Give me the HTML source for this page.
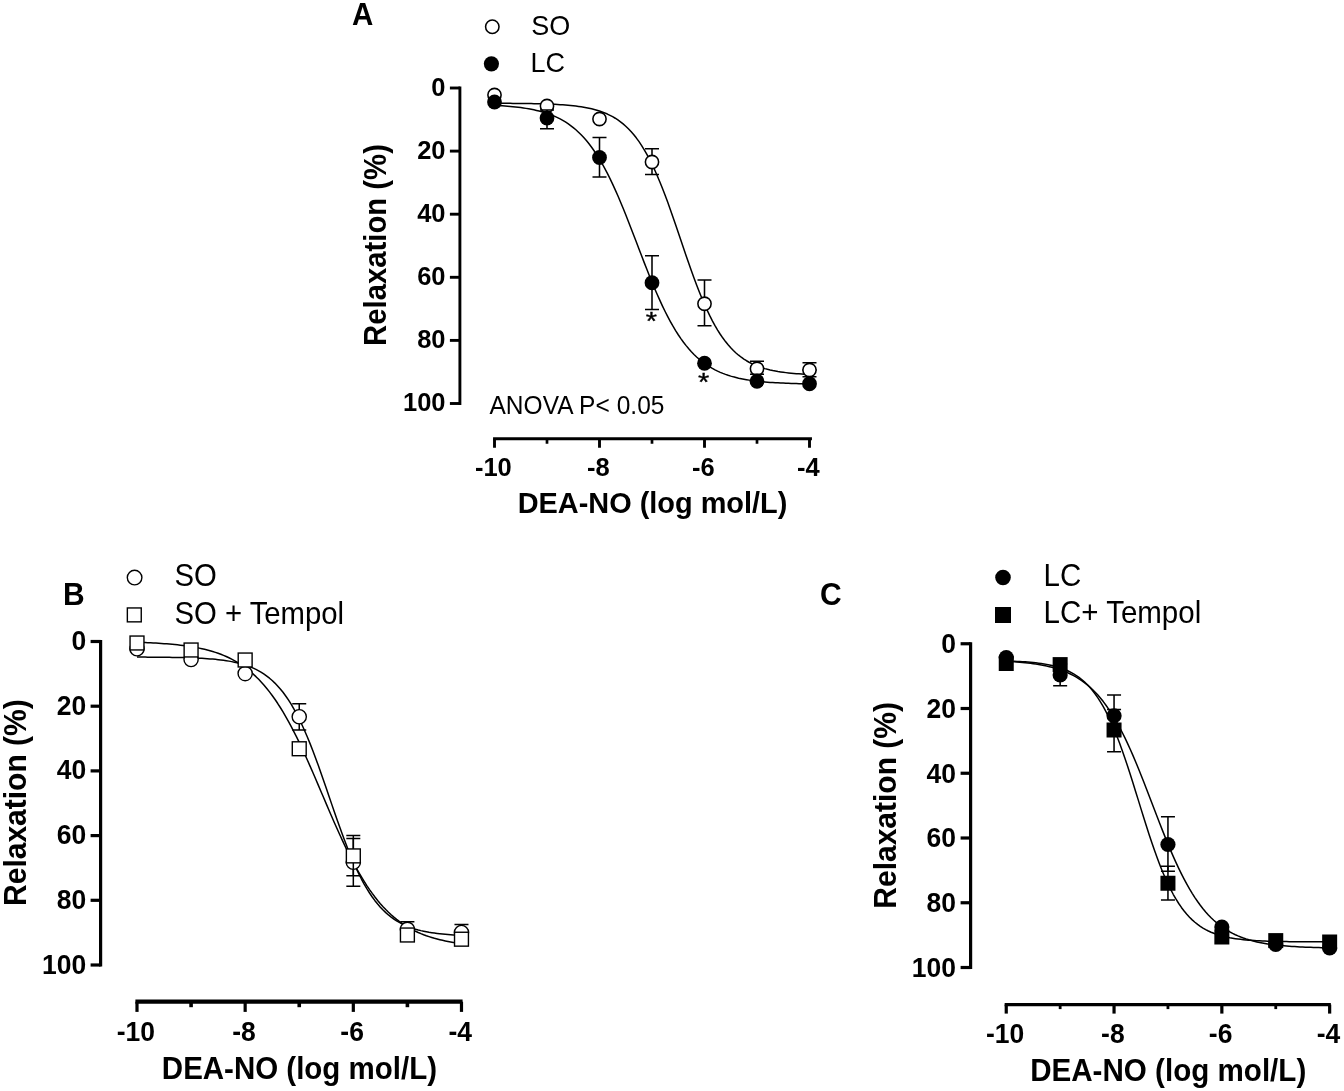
<!DOCTYPE html>
<html lang="en">
<head>
<meta charset="utf-8">
<title>DEA-NO relaxation curves</title>
<style>
html,body{margin:0;padding:0;background:#fff;}
body{width:1344px;height:1091px;overflow:hidden;}
svg{display:block;}
svg text{font-family:"Liberation Sans", Arial, Helvetica, sans-serif;fill:#000;}
</style>
</head>
<body>
<svg width="1344" height="1091" viewBox="0 0 1344 1091">
<rect width="1344" height="1091" fill="#fff"/>
<line x1="459.9" y1="86.55" x2="459.9" y2="404.95" stroke="#000" stroke-width="2.9"/>
<line x1="449.9" y1="88" x2="459.9" y2="88" stroke="#000" stroke-width="2.9"/>
<text transform="translate(445.5,95.92) scale(1,1.04)" font-size="25.5" font-weight="bold" text-anchor="end">0</text>
<line x1="449.9" y1="151.1" x2="459.9" y2="151.1" stroke="#000" stroke-width="2.9"/>
<text transform="translate(445.5,159.02) scale(1,1.04)" font-size="25.5" font-weight="bold" text-anchor="end">20</text>
<line x1="449.9" y1="214.2" x2="459.9" y2="214.2" stroke="#000" stroke-width="2.9"/>
<text transform="translate(445.5,222.12) scale(1,1.04)" font-size="25.5" font-weight="bold" text-anchor="end">40</text>
<line x1="449.9" y1="277.3" x2="459.9" y2="277.3" stroke="#000" stroke-width="2.9"/>
<text transform="translate(445.5,285.22) scale(1,1.04)" font-size="25.5" font-weight="bold" text-anchor="end">60</text>
<line x1="449.9" y1="340.4" x2="459.9" y2="340.4" stroke="#000" stroke-width="2.9"/>
<text transform="translate(445.5,348.32) scale(1,1.04)" font-size="25.5" font-weight="bold" text-anchor="end">80</text>
<line x1="449.9" y1="403.5" x2="459.9" y2="403.5" stroke="#000" stroke-width="2.9"/>
<text transform="translate(445.5,411.42) scale(1,1.04)" font-size="25.5" font-weight="bold" text-anchor="end">100</text>
<line x1="493.05" y1="438.75" x2="811.95" y2="438.75" stroke="#000" stroke-width="3.2"/>
<line x1="494.5" y1="438.75" x2="494.5" y2="447.75" stroke="#000" stroke-width="2.9"/>
<text transform="translate(493.3,475.5) scale(1,1.04)" font-size="25.5" font-weight="bold" text-anchor="middle">-10</text>
<line x1="547" y1="438.75" x2="547" y2="443.75" stroke="#000" stroke-width="2.7"/>
<line x1="599.5" y1="438.75" x2="599.5" y2="447.75" stroke="#000" stroke-width="2.9"/>
<text transform="translate(598.3,475.5) scale(1,1.04)" font-size="25.5" font-weight="bold" text-anchor="middle">-8</text>
<line x1="652" y1="438.75" x2="652" y2="443.75" stroke="#000" stroke-width="2.7"/>
<line x1="704.5" y1="438.75" x2="704.5" y2="447.75" stroke="#000" stroke-width="2.9"/>
<text transform="translate(703.3,475.5) scale(1,1.04)" font-size="25.5" font-weight="bold" text-anchor="middle">-6</text>
<line x1="757" y1="438.75" x2="757" y2="443.75" stroke="#000" stroke-width="2.7"/>
<line x1="809.5" y1="438.75" x2="809.5" y2="447.75" stroke="#000" stroke-width="2.9"/>
<text transform="translate(808.3,475.5) scale(1,1.04)" font-size="25.5" font-weight="bold" text-anchor="middle">-4</text>
<text transform="translate(652.5,513) scale(1,1.04)" font-size="28.9" font-weight="bold" text-anchor="middle">DEA-NO (log mol/L)</text>
<text transform="translate(386,245) rotate(-90) scale(1,1.04)" font-size="29.3" font-weight="bold" text-anchor="middle">Relaxation (%)</text>
<path d="M494.5 103.28L497.13 103.29L499.75 103.31L502.38 103.32L505 103.33L507.62 103.35L510.25 103.37L512.88 103.39L515.5 103.41L518.12 103.43L520.75 103.46L523.38 103.49L526 103.53L528.62 103.57L531.25 103.61L533.88 103.66L536.5 103.72L539.12 103.78L541.75 103.85L544.38 103.93L547 104.02L549.62 104.12L552.25 104.23L554.88 104.35L557.5 104.49L560.12 104.64L562.75 104.82L565.38 105.01L568 105.23L570.62 105.47L573.25 105.74L575.88 106.05L578.5 106.39L581.12 106.77L583.75 107.19L586.38 107.67L589 108.2L591.62 108.79L594.25 109.45L596.88 110.18L599.5 111L602.12 111.91L604.75 112.93L607.38 114.06L610 115.31L612.62 116.7L615.25 118.24L617.88 119.95L620.5 121.84L623.12 123.92L625.75 126.21L628.38 128.73L631 131.5L633.62 134.52L636.25 137.83L638.88 141.42L641.5 145.33L644.12 149.55L646.75 154.11L649.38 159L652 164.23L654.62 169.8L657.25 175.7L659.88 181.93L662.5 188.47L665.12 195.29L667.75 202.36L670.38 209.66L673 217.14L675.62 224.76L678.25 232.47L680.88 240.23L683.5 247.98L686.12 255.68L688.75 263.27L691.38 270.71L694 277.96L696.62 284.98L699.25 291.73L701.88 298.19L704.5 304.34L707.12 310.17L709.75 315.66L712.38 320.81L715 325.62L717.62 330.09L720.25 334.24L722.88 338.07L725.5 341.59L728.12 344.83L730.75 347.79L733.38 350.5L736 352.96L738.62 355.2L741.25 357.23L743.88 359.07L746.5 360.74L749.12 362.24L751.75 363.6L754.38 364.82L757 365.92L759.62 366.91L762.25 367.8L764.88 368.6L767.5 369.32L770.12 369.96L772.75 370.54L775.38 371.05L778 371.52L780.62 371.93L783.25 372.3L785.88 372.63L788.5 372.93L791.12 373.19L793.75 373.43L796.38 373.64L799 373.83L801.62 374L804.25 374.15L806.88 374.28L809.5 374.4" stroke="#000" stroke-width="1.5" fill="none" stroke-linejoin="round"/>
<path d="M494.5 105.39L497.13 105.53L499.75 105.68L502.38 105.85L505 106.03L507.62 106.24L510.25 106.46L512.88 106.71L515.5 106.98L518.12 107.28L520.75 107.61L523.38 107.97L526 108.37L528.62 108.81L531.25 109.29L533.88 109.82L536.5 110.4L539.12 111.04L541.75 111.74L544.38 112.51L547 113.35L549.62 114.28L552.25 115.29L554.88 116.4L557.5 117.61L560.12 118.94L562.75 120.39L565.38 121.96L568 123.68L570.62 125.55L573.25 127.58L575.88 129.79L578.5 132.18L581.12 134.76L583.75 137.55L586.38 140.56L589 143.79L591.62 147.26L594.25 150.97L596.88 154.93L599.5 159.15L602.12 163.63L604.75 168.36L607.38 173.35L610 178.6L612.62 184.1L615.25 189.83L617.88 195.78L620.5 201.94L623.12 208.28L625.75 214.78L628.38 221.42L631 228.17L633.62 234.99L636.25 241.85L638.88 248.73L641.5 255.58L644.12 262.39L646.75 269.1L649.38 275.7L652 282.15L654.62 288.44L657.25 294.53L659.88 300.41L662.5 306.07L665.12 311.48L667.75 316.65L670.38 321.56L673 326.21L675.62 330.6L678.25 334.73L680.88 338.61L683.5 342.24L686.12 345.63L688.75 348.79L691.38 351.73L694 354.45L696.62 356.97L699.25 359.3L701.88 361.44L704.5 363.42L707.12 365.24L709.75 366.91L712.38 368.45L715 369.85L717.62 371.14L720.25 372.32L722.88 373.4L725.5 374.38L728.12 375.28L730.75 376.1L733.38 376.85L736 377.53L738.62 378.15L741.25 378.71L743.88 379.22L746.5 379.69L749.12 380.12L751.75 380.5L754.38 380.85L757 381.17L759.62 381.46L762.25 381.73L764.88 381.97L767.5 382.18L770.12 382.38L772.75 382.56L775.38 382.72L778 382.87L780.62 383L783.25 383.12L785.88 383.23L788.5 383.33L791.12 383.42L793.75 383.51L796.38 383.58L799 383.65L801.62 383.71L804.25 383.77L806.88 383.82L809.5 383.86" stroke="#000" stroke-width="1.5" fill="none" stroke-linejoin="round"/>
<path d="M547 104.5V107.5M540 104.5H554M540 107.5H554" stroke="#000" stroke-width="1.55" fill="none"/>
<path d="M652 148.75V174.5M645 148.75H659M645 174.5H659" stroke="#000" stroke-width="1.55" fill="none"/>
<path d="M704.5 280V325.75M697.5 280H711.5M697.5 325.75H711.5" stroke="#000" stroke-width="1.55" fill="none"/>
<path d="M757 361.25V368.75M750 361.25H764M750 368.75H764" stroke="#000" stroke-width="1.55" fill="none"/>
<path d="M809.5 362.75V370M802.5 362.75H816.5M802.5 370H816.5" stroke="#000" stroke-width="1.55" fill="none"/>
<circle cx="494.5" cy="95" r="6.62" fill="#fff" stroke="#000" stroke-width="1.55"/>
<circle cx="547" cy="106" r="6.62" fill="#fff" stroke="#000" stroke-width="1.55"/>
<circle cx="599.5" cy="119" r="6.62" fill="#fff" stroke="#000" stroke-width="1.55"/>
<circle cx="652" cy="162" r="6.62" fill="#fff" stroke="#000" stroke-width="1.55"/>
<circle cx="704.5" cy="303.75" r="6.62" fill="#fff" stroke="#000" stroke-width="1.55"/>
<circle cx="757" cy="368.75" r="6.62" fill="#fff" stroke="#000" stroke-width="1.55"/>
<circle cx="809.5" cy="370" r="6.62" fill="#fff" stroke="#000" stroke-width="1.55"/>
<path d="M547 110V128.75M540 110H554M540 128.75H554" stroke="#000" stroke-width="1.55" fill="none"/>
<path d="M599.5 137.5V177M592.5 137.5H606.5M592.5 177H606.5" stroke="#000" stroke-width="1.55" fill="none"/>
<path d="M652 255.75V309.5M645 255.75H659M645 309.5H659" stroke="#000" stroke-width="1.55" fill="none"/>
<path d="M757 374.2V381M750 374.2H764" stroke="#000" stroke-width="1.55" fill="none"/>
<path d="M809.5 376.8V383M802.5 376.8H816.5" stroke="#000" stroke-width="1.55" fill="none"/>
<circle cx="494.5" cy="102" r="7.4" fill="#000"/>
<circle cx="547" cy="118" r="7.4" fill="#000"/>
<circle cx="599.5" cy="157.5" r="7.4" fill="#000"/>
<circle cx="652" cy="282.75" r="7.4" fill="#000"/>
<circle cx="704.5" cy="363.25" r="7.4" fill="#000"/>
<circle cx="757" cy="381.25" r="7.4" fill="#000"/>
<circle cx="809.5" cy="383.75" r="7.4" fill="#000"/>
<text transform="translate(651.3,330.2) scale(1,0.88)" font-size="29" text-anchor="middle" stroke="#000" stroke-width="0.4">*</text>
<text transform="translate(703.7,391.2) scale(1,0.88)" font-size="29" text-anchor="middle" stroke="#000" stroke-width="0.4">*</text>
<circle cx="492.3" cy="26.7" r="6.72" fill="#fff" stroke="#000" stroke-width="1.55"/>
<circle cx="491.4" cy="63.8" r="7.6" fill="#000"/>
<text transform="translate(531.2,35) scale(1,1.04)" font-size="27" text-anchor="start">SO</text>
<text transform="translate(530.5,71.5) scale(1,1.04)" font-size="27" text-anchor="start">LC</text>
<text transform="translate(489.5,413.5) scale(1,1.04)" font-size="24.5" text-anchor="start" fill="#1a1a1a" letter-spacing="0.04">ANOVA P&lt; 0.05</text>
<text transform="translate(352,25) scale(1,1.04)" font-size="29.5" font-weight="bold" text-anchor="start">A</text>
<line x1="100.6" y1="639.9" x2="100.6" y2="966.6" stroke="#000" stroke-width="3.2"/>
<line x1="90.6" y1="641.5" x2="100.6" y2="641.5" stroke="#000" stroke-width="3.2"/>
<text transform="translate(86.3,650.08) scale(1,1.04)" font-size="26.5" font-weight="bold" text-anchor="end">0</text>
<line x1="90.6" y1="706.2" x2="100.6" y2="706.2" stroke="#000" stroke-width="3.2"/>
<text transform="translate(86.3,714.78) scale(1,1.04)" font-size="26.5" font-weight="bold" text-anchor="end">20</text>
<line x1="90.6" y1="770.9" x2="100.6" y2="770.9" stroke="#000" stroke-width="3.2"/>
<text transform="translate(86.3,779.48) scale(1,1.04)" font-size="26.5" font-weight="bold" text-anchor="end">40</text>
<line x1="90.6" y1="835.6" x2="100.6" y2="835.6" stroke="#000" stroke-width="3.2"/>
<text transform="translate(86.3,844.18) scale(1,1.04)" font-size="26.5" font-weight="bold" text-anchor="end">60</text>
<line x1="90.6" y1="900.3" x2="100.6" y2="900.3" stroke="#000" stroke-width="3.2"/>
<text transform="translate(86.3,908.88) scale(1,1.04)" font-size="26.5" font-weight="bold" text-anchor="end">80</text>
<line x1="90.6" y1="965" x2="100.6" y2="965" stroke="#000" stroke-width="3.2"/>
<text transform="translate(86.3,973.58) scale(1,1.04)" font-size="26.5" font-weight="bold" text-anchor="end">100</text>
<line x1="135.4" y1="1001.7" x2="462.58" y2="1001.7" stroke="#000" stroke-width="4.2"/>
<line x1="137" y1="1001.7" x2="137" y2="1011.9" stroke="#000" stroke-width="3.2"/>
<text transform="translate(135.8,1040.5) scale(1,1.04)" font-size="26.5" font-weight="bold" text-anchor="middle">-10</text>
<line x1="191.08" y1="1001.7" x2="191.08" y2="1007.2" stroke="#000" stroke-width="3.6"/>
<line x1="245.16" y1="1001.7" x2="245.16" y2="1011.9" stroke="#000" stroke-width="3.2"/>
<text transform="translate(243.96,1040.5) scale(1,1.04)" font-size="26.5" font-weight="bold" text-anchor="middle">-8</text>
<line x1="299.24" y1="1001.7" x2="299.24" y2="1007.2" stroke="#000" stroke-width="3.6"/>
<line x1="353.32" y1="1001.7" x2="353.32" y2="1011.9" stroke="#000" stroke-width="3.2"/>
<text transform="translate(352.12,1040.5) scale(1,1.04)" font-size="26.5" font-weight="bold" text-anchor="middle">-6</text>
<line x1="407.4" y1="1001.7" x2="407.4" y2="1007.2" stroke="#000" stroke-width="3.6"/>
<line x1="461.48" y1="1001.7" x2="461.48" y2="1011.9" stroke="#000" stroke-width="3.2"/>
<text transform="translate(460.28,1040.5) scale(1,1.04)" font-size="26.5" font-weight="bold" text-anchor="middle">-4</text>
<text transform="translate(299.4,1078.8) scale(1,1.04)" font-size="29.5" font-weight="bold" text-anchor="middle">DEA-NO (log mol/L)</text>
<text transform="translate(26.3,802.6) rotate(-90) scale(1,1.04)" font-size="30" font-weight="bold" text-anchor="middle">Relaxation (%)</text>
<path d="M137 657.09L139.7 657.1L142.41 657.11L145.11 657.12L147.82 657.14L150.52 657.16L153.22 657.18L155.93 657.2L158.63 657.22L161.34 657.25L164.04 657.28L166.74 657.31L169.45 657.35L172.15 657.39L174.86 657.43L177.56 657.49L180.26 657.54L182.97 657.61L185.67 657.68L188.38 657.76L191.08 657.86L193.78 657.96L196.49 658.07L199.19 658.2L201.9 658.34L204.6 658.51L207.3 658.68L210.01 658.89L212.71 659.11L215.42 659.36L218.12 659.64L220.82 659.95L223.53 660.31L226.23 660.7L228.94 661.13L231.64 661.62L234.34 662.16L237.05 662.77L239.75 663.45L242.46 664.2L245.16 665.04L247.86 665.97L250.57 667.01L253.27 668.17L255.98 669.44L258.68 670.86L261.38 672.43L264.09 674.17L266.79 676.09L269.5 678.21L272.2 680.54L274.9 683.1L277.61 685.9L280.31 688.97L283.02 692.32L285.72 695.97L288.42 699.93L291.13 704.21L293.83 708.82L296.54 713.77L299.24 719.07L301.94 724.71L304.65 730.69L307.35 737L310.06 743.62L312.76 750.53L315.46 757.71L318.17 765.11L320.87 772.71L323.58 780.46L326.28 788.31L328.98 796.21L331.69 804.12L334.39 811.98L337.1 819.74L339.8 827.37L342.5 834.8L345.21 842.01L347.91 848.96L350.62 855.62L353.32 861.97L356.02 867.99L358.73 873.68L361.43 879.02L364.14 884.02L366.84 888.67L369.54 893L372.25 896.99L374.95 900.68L377.66 904.07L380.36 907.17L383.06 910.01L385.77 912.6L388.47 914.96L391.18 917.11L393.88 919.05L396.58 920.81L399.29 922.4L401.99 923.84L404.7 925.14L407.4 926.31L410.1 927.36L412.81 928.31L415.51 929.16L418.22 929.92L420.92 930.61L423.62 931.22L426.33 931.77L429.03 932.27L431.74 932.71L434.44 933.11L437.14 933.46L439.85 933.78L442.55 934.07L445.26 934.32L447.96 934.55L450.66 934.75L453.37 934.94L456.07 935.1L458.78 935.24L461.48 935.37" stroke="#000" stroke-width="1.5" fill="none" stroke-linejoin="round"/>
<path d="M137 642.31L139.7 642.4L142.41 642.5L145.11 642.6L147.82 642.72L150.52 642.84L153.22 642.97L155.93 643.12L158.63 643.28L161.34 643.45L164.04 643.64L166.74 643.84L169.45 644.06L172.15 644.3L174.86 644.56L177.56 644.84L180.26 645.14L182.97 645.47L185.67 645.83L188.38 646.22L191.08 646.64L193.78 647.09L196.49 647.58L199.19 648.12L201.9 648.7L204.6 649.32L207.3 650L210.01 650.73L212.71 651.52L215.42 652.37L218.12 653.3L220.82 654.29L223.53 655.37L226.23 656.53L228.94 657.78L231.64 659.12L234.34 660.57L237.05 662.13L239.75 663.8L242.46 665.59L245.16 667.52L247.86 669.58L250.57 671.79L253.27 674.14L255.98 676.66L258.68 679.34L261.38 682.2L264.09 685.23L266.79 688.45L269.5 691.86L272.2 695.47L274.9 699.27L277.61 703.28L280.31 707.49L283.02 711.9L285.72 716.51L288.42 721.33L291.13 726.33L293.83 731.53L296.54 736.9L299.24 742.45L301.94 748.16L304.65 754.01L307.35 759.99L310.06 766.08L312.76 772.27L315.46 778.53L318.17 784.85L320.87 791.2L323.58 797.56L326.28 803.91L328.98 810.23L331.69 816.5L334.39 822.69L337.1 828.79L339.8 834.77L342.5 840.63L345.21 846.34L347.91 851.9L350.62 857.28L353.32 862.49L356.02 867.5L358.73 872.32L361.43 876.95L364.14 881.37L366.84 885.59L369.54 889.6L372.25 893.42L374.95 897.03L377.66 900.45L380.36 903.68L383.06 906.73L385.77 909.59L388.47 912.28L391.18 914.81L393.88 917.17L396.58 919.39L399.29 921.45L401.99 923.39L404.7 925.19L407.4 926.87L410.1 928.43L412.81 929.88L415.51 931.23L418.22 932.48L420.92 933.65L423.62 934.73L426.33 935.73L429.03 936.65L431.74 937.51L434.44 938.31L437.14 939.04L439.85 939.72L442.55 940.35L445.26 940.93L447.96 941.46L450.66 941.96L453.37 942.41L456.07 942.84L458.78 943.22L461.48 943.58" stroke="#000" stroke-width="1.5" fill="none" stroke-linejoin="round"/>
<path d="M299.24 703.75V730M292.24 703.75H306.24M292.24 730H306.24" stroke="#000" stroke-width="1.5" fill="none"/>
<path d="M353.32 838.6V886.2M346.32 838.6H360.32M346.32 886.2H360.32" stroke="#000" stroke-width="1.5" fill="none"/>
<path d="M407.4 921.75V930M400.4 921.75H414.4M400.4 930H414.4" stroke="#000" stroke-width="1.5" fill="none"/>
<path d="M461.48 924.4V933M454.48 924.4H468.48M454.48 933H468.48" stroke="#000" stroke-width="1.5" fill="none"/>
<circle cx="137" cy="648.75" r="7.1" fill="#fff" stroke="#000" stroke-width="1.4"/>
<circle cx="191.08" cy="659.5" r="7.1" fill="#fff" stroke="#000" stroke-width="1.4"/>
<circle cx="245.16" cy="673.6" r="7.1" fill="#fff" stroke="#000" stroke-width="1.4"/>
<circle cx="299.24" cy="716.75" r="7.1" fill="#fff" stroke="#000" stroke-width="1.4"/>
<circle cx="353.32" cy="862.3" r="7.1" fill="#fff" stroke="#000" stroke-width="1.4"/>
<circle cx="407.4" cy="929.3" r="7.1" fill="#fff" stroke="#000" stroke-width="1.4"/>
<circle cx="461.48" cy="932.5" r="7.1" fill="#fff" stroke="#000" stroke-width="1.4"/>
<path d="M353.32 835.6V875.7M346.32 835.6H360.32M346.32 875.7H360.32" stroke="#000" stroke-width="1.5" fill="none"/>
<rect x="130.05" y="636.05" width="13.9" height="13.9" fill="#fff" stroke="#000" stroke-width="1.4"/>
<rect x="184.13" y="643.05" width="13.9" height="13.9" fill="#fff" stroke="#000" stroke-width="1.4"/>
<rect x="238.21" y="653.05" width="13.9" height="13.9" fill="#fff" stroke="#000" stroke-width="1.4"/>
<rect x="292.29" y="741.8" width="13.9" height="13.9" fill="#fff" stroke="#000" stroke-width="1.4"/>
<rect x="346.37" y="848.95" width="13.9" height="13.9" fill="#fff" stroke="#000" stroke-width="1.4"/>
<rect x="400.45" y="928.05" width="13.9" height="13.9" fill="#fff" stroke="#000" stroke-width="1.4"/>
<rect x="454.53" y="932.25" width="13.9" height="13.9" fill="#fff" stroke="#000" stroke-width="1.4"/>
<circle cx="134.6" cy="577.6" r="7.3" fill="#fff" stroke="#000" stroke-width="1.4"/>
<rect x="127.35" y="607.95" width="13.9" height="13.9" fill="#fff" stroke="#000" stroke-width="1.4"/>
<text transform="translate(174.5,586) scale(1,1.04)" font-size="29.3" text-anchor="start">SO</text>
<text transform="translate(174.5,623.5) scale(1,1.04)" font-size="29.3" text-anchor="start">SO + Tempol</text>
<text transform="translate(63,605.2) scale(1,1.04)" font-size="30" font-weight="bold" text-anchor="start">B</text>
<line x1="970.6" y1="642.15" x2="970.6" y2="969.1" stroke="#000" stroke-width="3.2"/>
<line x1="960.6" y1="643.75" x2="970.6" y2="643.75" stroke="#000" stroke-width="3.2"/>
<text transform="translate(956,653.23) scale(1,1.04)" font-size="26.5" font-weight="bold" text-anchor="end">0</text>
<line x1="960.6" y1="708.5" x2="970.6" y2="708.5" stroke="#000" stroke-width="3.2"/>
<text transform="translate(956,717.98) scale(1,1.04)" font-size="26.5" font-weight="bold" text-anchor="end">20</text>
<line x1="960.6" y1="773.25" x2="970.6" y2="773.25" stroke="#000" stroke-width="3.2"/>
<text transform="translate(956,782.73) scale(1,1.04)" font-size="26.5" font-weight="bold" text-anchor="end">40</text>
<line x1="960.6" y1="838" x2="970.6" y2="838" stroke="#000" stroke-width="3.2"/>
<text transform="translate(956,847.48) scale(1,1.04)" font-size="26.5" font-weight="bold" text-anchor="end">60</text>
<line x1="960.6" y1="902.75" x2="970.6" y2="902.75" stroke="#000" stroke-width="3.2"/>
<text transform="translate(956,912.23) scale(1,1.04)" font-size="26.5" font-weight="bold" text-anchor="end">80</text>
<line x1="960.6" y1="967.5" x2="970.6" y2="967.5" stroke="#000" stroke-width="3.2"/>
<text transform="translate(956,976.98) scale(1,1.04)" font-size="26.5" font-weight="bold" text-anchor="end">100</text>
<line x1="1004.65" y1="1004.6" x2="1330.85" y2="1004.6" stroke="#000" stroke-width="3.4"/>
<line x1="1006.25" y1="1004.6" x2="1006.25" y2="1013.6" stroke="#000" stroke-width="3.2"/>
<text transform="translate(1005.05,1042.6) scale(1,1.04)" font-size="26.5" font-weight="bold" text-anchor="middle">-10</text>
<line x1="1060.15" y1="1004.6" x2="1060.15" y2="1009.1" stroke="#000" stroke-width="2.8"/>
<line x1="1114.05" y1="1004.6" x2="1114.05" y2="1013.6" stroke="#000" stroke-width="3.2"/>
<text transform="translate(1112.85,1042.6) scale(1,1.04)" font-size="26.5" font-weight="bold" text-anchor="middle">-8</text>
<line x1="1167.95" y1="1004.6" x2="1167.95" y2="1009.1" stroke="#000" stroke-width="2.8"/>
<line x1="1221.85" y1="1004.6" x2="1221.85" y2="1013.6" stroke="#000" stroke-width="3.2"/>
<text transform="translate(1220.65,1042.6) scale(1,1.04)" font-size="26.5" font-weight="bold" text-anchor="middle">-6</text>
<line x1="1275.75" y1="1004.6" x2="1275.75" y2="1009.1" stroke="#000" stroke-width="2.8"/>
<line x1="1329.65" y1="1004.6" x2="1329.65" y2="1013.6" stroke="#000" stroke-width="3.2"/>
<text transform="translate(1328.45,1042.6) scale(1,1.04)" font-size="26.5" font-weight="bold" text-anchor="middle">-4</text>
<text transform="translate(1168.2,1081.3) scale(1,1.04)" font-size="29.6" font-weight="bold" text-anchor="middle">DEA-NO (log mol/L)</text>
<text transform="translate(895.6,805.4) rotate(-90) scale(1,1.04)" font-size="30" font-weight="bold" text-anchor="middle">Relaxation (%)</text>
<path d="M1006.25 661.35L1008.95 661.49L1011.64 661.66L1014.34 661.83L1017.03 662.03L1019.73 662.25L1022.42 662.48L1025.12 662.74L1027.81 663.03L1030.5 663.35L1033.2 663.7L1035.89 664.08L1038.59 664.5L1041.29 664.97L1043.98 665.47L1046.67 666.03L1049.37 666.65L1052.07 667.32L1054.76 668.06L1057.45 668.87L1060.15 669.76L1062.85 670.74L1065.54 671.8L1068.24 672.97L1070.93 674.24L1073.62 675.63L1076.32 677.15L1079.01 678.8L1081.71 680.6L1084.4 682.56L1087.1 684.69L1089.8 686.99L1092.49 689.49L1095.18 692.19L1097.88 695.1L1100.58 698.23L1103.27 701.59L1105.96 705.2L1108.66 709.06L1111.36 713.17L1114.05 717.55L1116.75 722.19L1119.44 727.09L1122.13 732.26L1124.83 737.68L1127.53 743.36L1130.22 749.27L1132.91 755.41L1135.61 761.75L1138.31 768.28L1141 774.96L1143.69 781.78L1146.39 788.71L1149.09 795.7L1151.78 802.74L1154.47 809.78L1157.17 816.8L1159.87 823.75L1162.56 830.61L1165.26 837.36L1167.95 843.95L1170.64 850.36L1173.34 856.58L1176.04 862.58L1178.73 868.35L1181.42 873.87L1184.12 879.13L1186.82 884.14L1189.51 888.88L1192.2 893.35L1194.9 897.57L1197.6 901.52L1200.29 905.23L1202.99 908.68L1205.68 911.9L1208.38 914.9L1211.07 917.67L1213.76 920.24L1216.46 922.62L1219.15 924.81L1221.85 926.83L1224.55 928.69L1227.24 930.4L1229.93 931.97L1232.63 933.41L1235.33 934.73L1238.02 935.93L1240.72 937.04L1243.41 938.04L1246.11 938.96L1248.8 939.8L1251.49 940.57L1254.19 941.27L1256.88 941.91L1259.58 942.49L1262.28 943.01L1264.97 943.49L1267.66 943.93L1270.36 944.33L1273.06 944.69L1275.75 945.02L1278.45 945.32L1281.14 945.59L1283.84 945.83L1286.53 946.06L1289.22 946.26L1291.92 946.45L1294.62 946.61L1297.31 946.77L1300.01 946.9L1302.7 947.03L1305.39 947.14L1308.09 947.25L1310.79 947.34L1313.48 947.43L1316.17 947.5L1318.87 947.57L1321.57 947.64L1324.26 947.7L1326.95 947.75L1329.65 947.79" stroke="#000" stroke-width="1.5" fill="none" stroke-linejoin="round"/>
<path d="M1006.25 660.97L1008.95 661.06L1011.64 661.15L1014.34 661.26L1017.03 661.38L1019.73 661.52L1022.42 661.67L1025.12 661.85L1027.81 662.05L1030.5 662.27L1033.2 662.53L1035.89 662.81L1038.59 663.14L1041.29 663.5L1043.98 663.91L1046.67 664.38L1049.37 664.91L1052.07 665.5L1054.76 666.16L1057.45 666.92L1060.15 667.76L1062.85 668.71L1065.54 669.78L1068.24 670.98L1070.93 672.32L1073.62 673.83L1076.32 675.52L1079.01 677.4L1081.71 679.5L1084.4 681.83L1087.1 684.43L1089.8 687.3L1092.49 690.48L1095.18 693.98L1097.88 697.83L1100.58 702.04L1103.27 706.64L1105.96 711.64L1108.66 717.05L1111.36 722.87L1114.05 729.11L1116.75 735.75L1119.44 742.79L1122.13 750.2L1124.83 757.95L1127.53 766L1130.22 774.3L1132.91 782.79L1135.61 791.43L1138.31 800.14L1141 808.86L1143.69 817.52L1146.39 826.05L1149.09 834.4L1151.78 842.51L1154.47 850.33L1157.17 857.82L1159.87 864.95L1162.56 871.68L1165.26 878.01L1167.95 883.93L1170.64 889.43L1173.34 894.51L1176.04 899.2L1178.73 903.5L1181.42 907.43L1184.12 911.01L1186.82 914.26L1189.51 917.2L1192.2 919.85L1194.9 922.25L1197.6 924.4L1200.29 926.32L1202.99 928.05L1205.68 929.6L1208.38 930.98L1211.07 932.21L1213.76 933.3L1216.46 934.28L1219.15 935.15L1221.85 935.92L1224.55 936.6L1227.24 937.21L1229.93 937.75L1232.63 938.23L1235.33 938.65L1238.02 939.03L1240.72 939.36L1243.41 939.66L1246.11 939.92L1248.8 940.15L1251.49 940.35L1254.19 940.53L1256.88 940.69L1259.58 940.83L1262.28 940.96L1264.97 941.07L1267.66 941.17L1270.36 941.25L1273.06 941.33L1275.75 941.4L1278.45 941.46L1281.14 941.51L1283.84 941.56L1286.53 941.6L1289.22 941.63L1291.92 941.67L1294.62 941.69L1297.31 941.72L1300.01 941.74L1302.7 941.76L1305.39 941.78L1308.09 941.79L1310.79 941.81L1313.48 941.82L1316.17 941.83L1318.87 941.84L1321.57 941.85L1324.26 941.85L1326.95 941.86L1329.65 941.87" stroke="#000" stroke-width="1.5" fill="none" stroke-linejoin="round"/>
<path d="M1060.15 664V685.75M1053.15 664H1067.15M1053.15 685.75H1067.15" stroke="#000" stroke-width="1.55" fill="none"/>
<path d="M1114.05 695V736M1107.05 695H1121.05M1107.05 736H1121.05" stroke="#000" stroke-width="1.55" fill="none"/>
<path d="M1167.95 816.75V871.25M1160.95 816.75H1174.95M1160.95 871.25H1174.95" stroke="#000" stroke-width="1.55" fill="none"/>
<circle cx="1006.25" cy="657.5" r="7.6" fill="#000"/>
<circle cx="1060.15" cy="675" r="7.6" fill="#000"/>
<circle cx="1114.05" cy="715.75" r="7.6" fill="#000"/>
<circle cx="1167.95" cy="844.5" r="7.6" fill="#000"/>
<circle cx="1221.85" cy="927" r="7.6" fill="#000"/>
<circle cx="1275.75" cy="944.5" r="7.6" fill="#000"/>
<circle cx="1329.65" cy="948" r="7.6" fill="#000"/>
<path d="M1114.05 709.5V751.75M1107.05 709.5H1121.05M1107.05 751.75H1121.05" stroke="#000" stroke-width="1.55" fill="none"/>
<path d="M1167.95 866.25V900M1160.95 866.25H1174.95M1160.95 900H1174.95" stroke="#000" stroke-width="1.55" fill="none"/>
<rect x="998.75" y="656" width="15" height="15" fill="#000"/>
<rect x="1052.65" y="657.1" width="15" height="15" fill="#000"/>
<rect x="1106.55" y="722.5" width="15" height="15" fill="#000"/>
<rect x="1160.45" y="875.75" width="15" height="15" fill="#000"/>
<rect x="1214.35" y="929.5" width="15" height="15" fill="#000"/>
<rect x="1268.25" y="933.1" width="15" height="15" fill="#000"/>
<rect x="1322.15" y="934.5" width="15" height="15" fill="#000"/>
<circle cx="1003" cy="577.5" r="7.8" fill="#000"/>
<rect x="995" y="607" width="16" height="16" fill="#000"/>
<text transform="translate(1043.6,586.3) scale(1,1.04)" font-size="29.5" text-anchor="start">LC</text>
<text transform="translate(1043.6,623.3) scale(1,1.04)" font-size="29.5" text-anchor="start">LC+ Tempol</text>
<text transform="translate(820,605.4) scale(1,1.04)" font-size="30" font-weight="bold" text-anchor="start">C</text>
</svg>
</body>
</html>
